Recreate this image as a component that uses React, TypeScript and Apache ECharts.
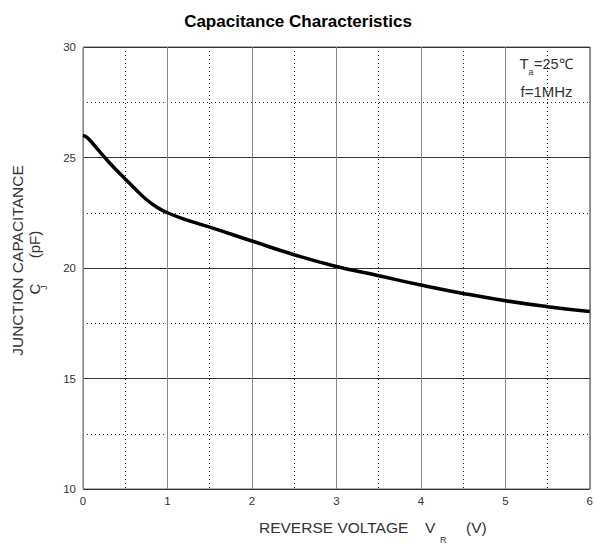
import React, { useEffect, useRef } from "react";
import * as echarts from "echarts";

const voltage = [0, 0.05, 0.1, 0.2, 0.3, 0.4, 0.5, 0.625, 0.75, 0.875, 1, 1.25, 1.5, 2, 2.5, 3, 3.5, 4, 4.5, 5, 5.5, 6];
const capacitance = [26.0, 25.9, 25.7, 25.25, 24.82, 24.41, 24.03, 23.55, 23.1, 22.75, 22.5, 22.14, 21.85, 21.22, 20.6, 20.07, 19.65, 19.23, 18.85, 18.52, 18.25, 18.03];

const titleText = "Capacitance Characteristics";
const xNameMain = "REVERSE VOLTAGE";
const yNameMain = "JUNCTION CAPACITANCE";

const FONT = "'Liberation Sans', Arial, sans-serif";

export default function App() {
  const ref = useRef<HTMLDivElement>(null);
  useEffect(() => {
    if (!ref.current) return;
    const chart = echarts.init(ref.current, null, { renderer: "svg" });
    const data = voltage.map((v, i) => [v, capacitance[i]]);
    const R = Math.PI / 2;
    chart.setOption({
      animation: false,
      backgroundColor: "#fff",
      textStyle: { fontFamily: FONT },
      title: {
        text: titleText,
        left: "center",
        top: 8,
        textStyle: { fontSize: 17, fontWeight: "bold", color: "#000", fontFamily: FONT },
      },
      grid: {
        left: 83,
        top: 47,
        right: 5,
        bottom: 55,
        show: true,
        borderColor: "#666",
        borderWidth: 1,
        backgroundColor: "transparent",
      },
      xAxis: {
        type: "value",
        min: 0,
        max: 6,
        interval: 1,
        axisLine: { show: false },
        axisTick: { show: false },
        axisLabel: { fontSize: 11.5, color: "#333", margin: 6, fontFamily: FONT },
        splitLine: { show: true, lineStyle: { color: "#888", width: 1 } },
        minorTick: { show: false, splitNumber: 2 },
        minorSplitLine: { show: true, lineStyle: { color: "#222", width: 1, type: [1, 3] } },
      },
      yAxis: {
        type: "value",
        min: 10,
        max: 30,
        interval: 5,
        axisLine: { show: false },
        axisTick: { show: false },
        axisLabel: { fontSize: 11.5, color: "#333", margin: 7, fontFamily: FONT },
        splitLine: { show: true, lineStyle: { color: "#333", width: 1 } },
        minorTick: { show: false, splitNumber: 2 },
        minorSplitLine: { show: true, lineStyle: { color: "#222", width: 1, type: [1, 3] } },
      },
      graphic: [
        { type: "text", x: 259, y: 527.5, style: { text: xNameMain, fill: "#333", font: `15.5px ${FONT}`, align: "left", verticalAlign: "middle" } },
        { type: "text", x: 425, y: 527.5, style: { text: "V", fill: "#333", font: `15.5px ${FONT}`, align: "left", verticalAlign: "middle" } },
        { type: "text", x: 440, y: 540, style: { text: "R", fill: "#333", font: `9px ${FONT}`, align: "left", verticalAlign: "middle" } },
        { type: "text", x: 466, y: 527.5, style: { text: "(V)", fill: "#333", font: `15.5px ${FONT}`, align: "left", verticalAlign: "middle" } },
        { type: "text", x: 17.5, y: 260.5, rotation: R, style: { text: yNameMain, fill: "#333", font: `15.5px ${FONT}`, align: "center", verticalAlign: "middle" } },
        { type: "text", x: 34, y: 289, rotation: R, style: { text: "C", fill: "#333", font: `15px ${FONT}`, align: "center", verticalAlign: "middle" } },
        { type: "text", x: 44, y: 287.5, rotation: R, style: { text: "J", fill: "#333", font: `9px ${FONT}`, align: "center", verticalAlign: "middle" } },
        { type: "text", x: 34, y: 244.5, rotation: R, style: { text: "(pF)", fill: "#333", font: `15px ${FONT}`, align: "center", verticalAlign: "middle" } },
        { type: "text", x: 519.5, y: 63.5, style: { text: "T", fill: "#333", font: `15px ${FONT}`, align: "left", verticalAlign: "middle" } },
        { type: "text", x: 528.5, y: 72, style: { text: "a", fill: "#333", font: `9px ${FONT}`, align: "left", verticalAlign: "middle" } },
        { type: "text", x: 534, y: 63.5, style: { text: "=25\u2103", fill: "#333", font: `14.5px ${FONT}`, align: "left", verticalAlign: "middle" } },
        { type: "text", x: 520.5, y: 91.5, style: { text: "f=1MHz", fill: "#333", font: `15px ${FONT}`, align: "left", verticalAlign: "middle" } },
      ],
      series: [
        {
          type: "line",
          data,
          smooth: 0.5,
          showSymbol: false,
          symbol: "none",
          lineStyle: { color: "#000", width: 3.5 },
          z: 5,
        },
      ],
    });
    return () => chart.dispose();
  }, []);
  return (
    <div
      ref={ref}
      style={{ position: "fixed", left: 0, top: 0, width: 596, height: 544, background: "#fff" }}
    />
  );
}
